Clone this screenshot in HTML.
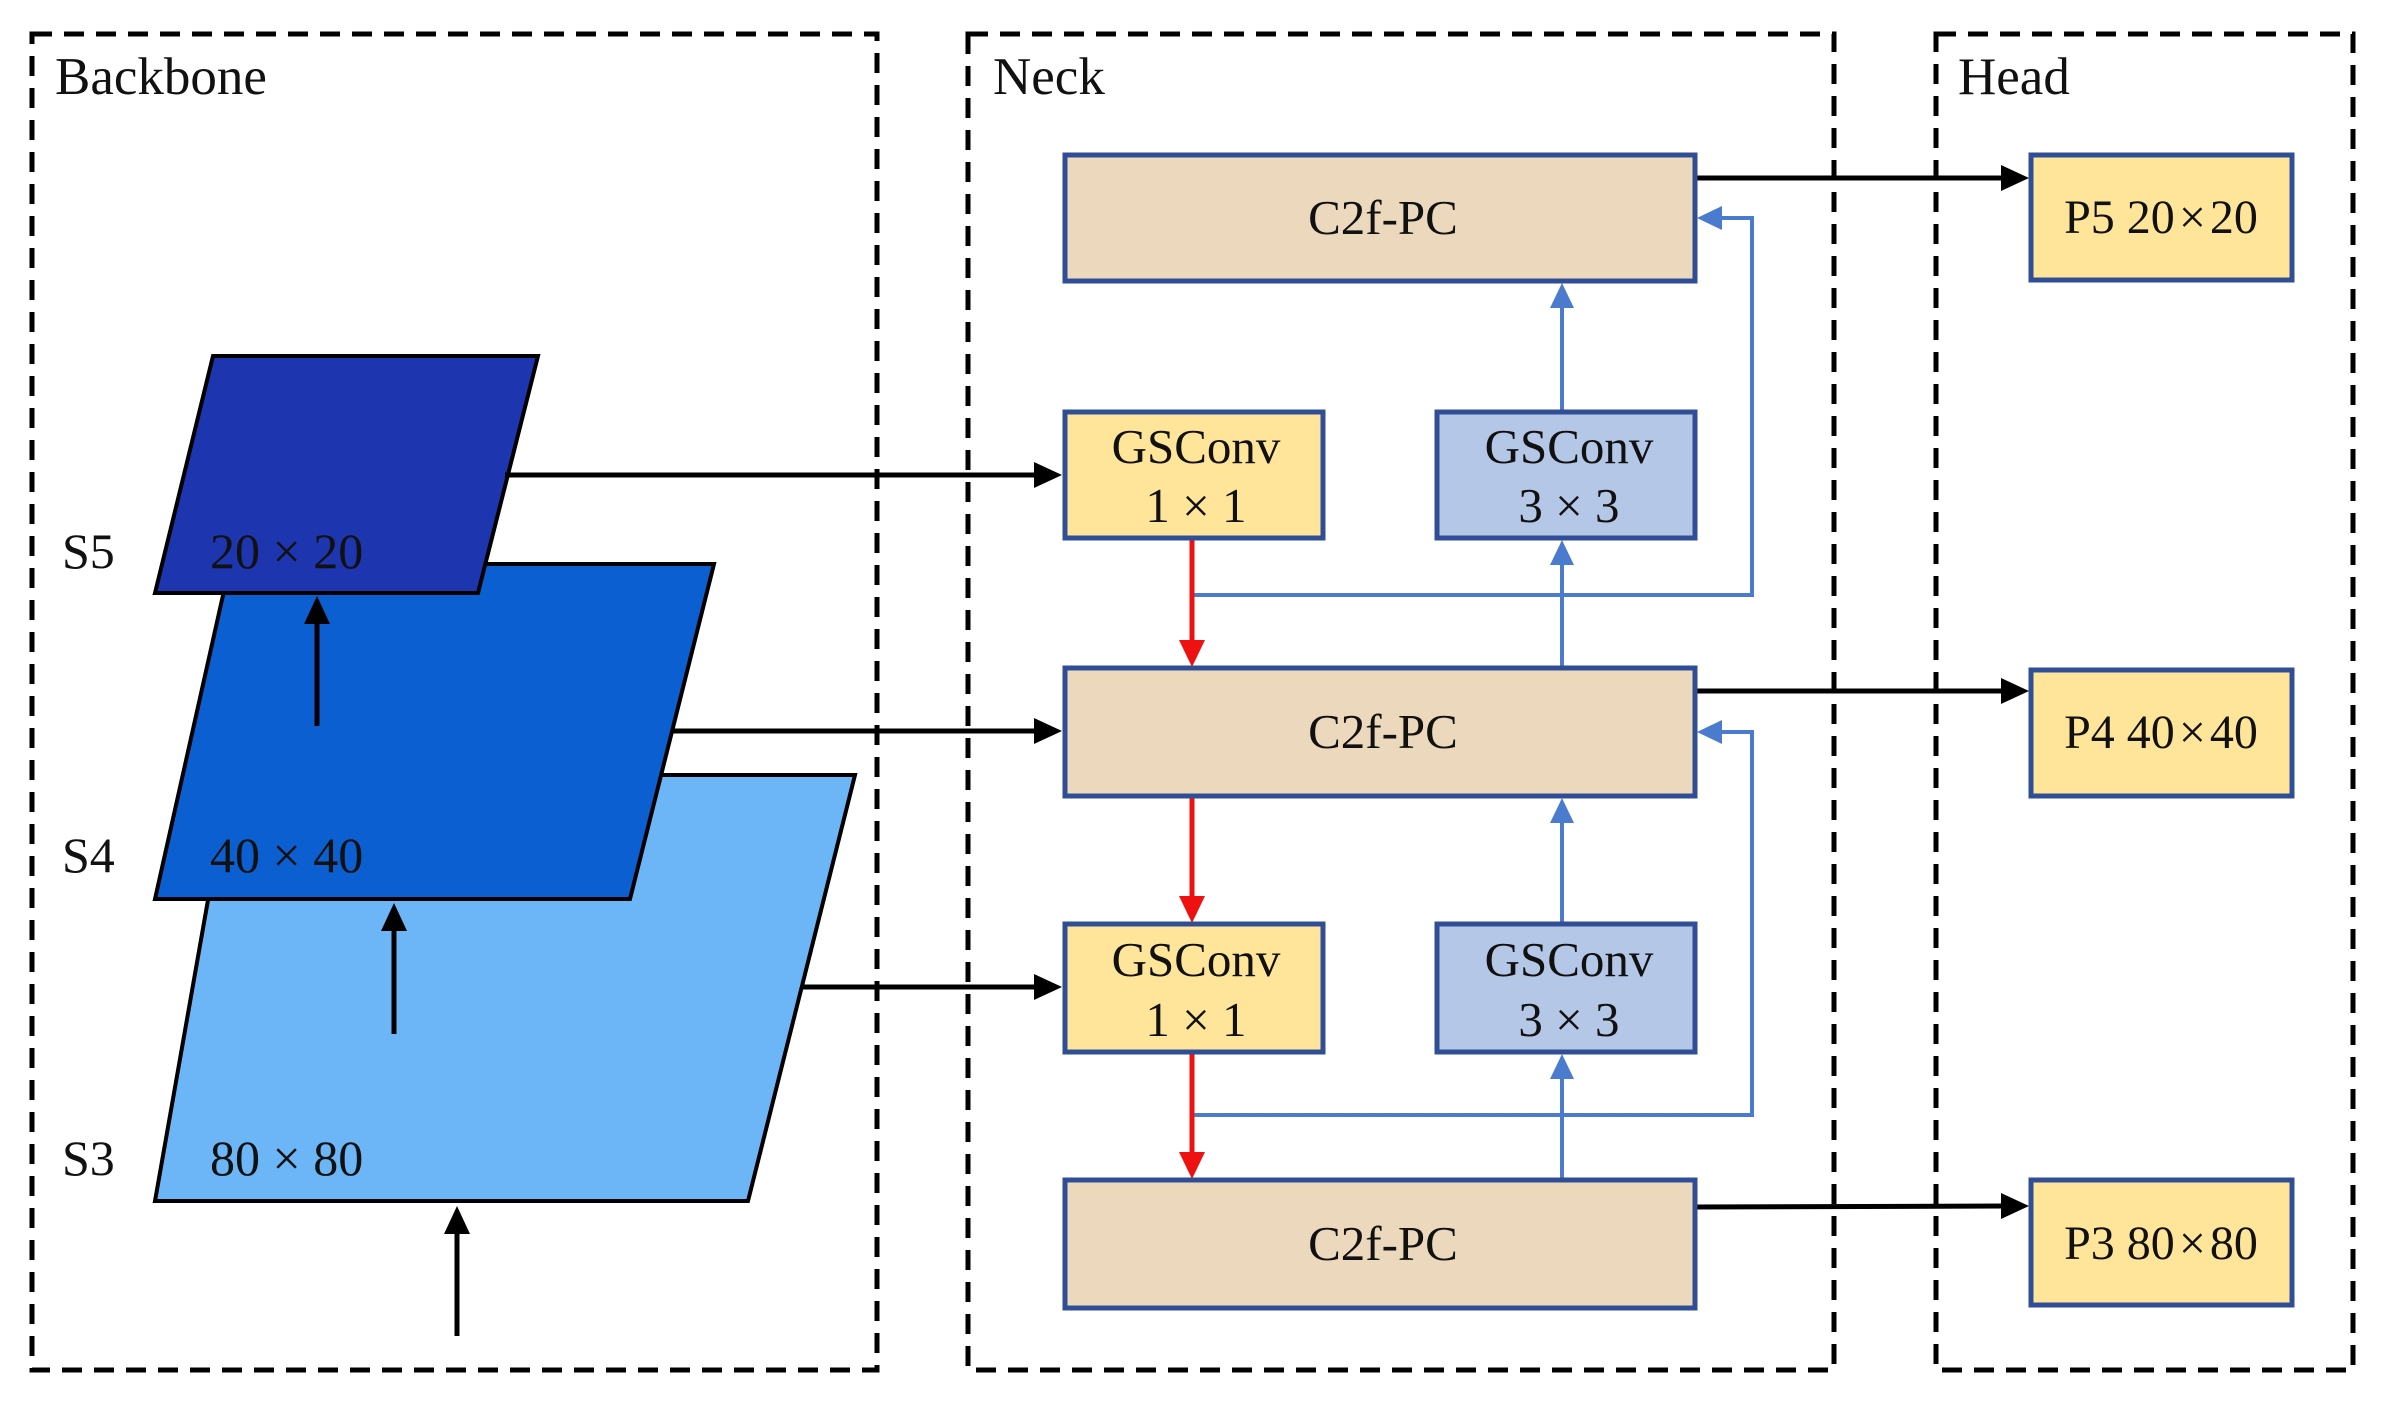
<!DOCTYPE html>
<html><head><meta charset="utf-8"><style>
html,body{margin:0;padding:0;background:#fff;}
svg{display:block;}
text{font-family:"Liberation Serif",serif;fill:#111;}
</style></head><body>
<svg width="2384" height="1410" viewBox="0 0 2384 1410" xmlns="http://www.w3.org/2000/svg">
<g fill="none" stroke="#000" stroke-width="5" stroke-dasharray="20,12">
<rect x="32" y="34" width="845" height="1336"/>
<rect x="968" y="34" width="866" height="1336"/>
<rect x="1936" y="34" width="417" height="1336"/>
</g>
<text x="55" y="94" font-size="53">Backbone</text>
<text x="993" y="94" font-size="53">Neck</text>
<text x="1958" y="94" font-size="53">Head</text>

<polygon points="230,775 855,775 748,1201 155,1201" fill="#6cb6f7" stroke="#000" stroke-width="4"/>
<polygon points="230,564 714,564 630,899 155,899" fill="#0b5fd0" stroke="#000" stroke-width="4"/>
<polygon points="213,356 538,356 478,593 155,593" fill="#1e35b0" stroke="#000" stroke-width="4"/>
<text x="62" y="568" font-size="50">S5</text>
<text x="62" y="872" font-size="50">S4</text>
<text x="62" y="1175" font-size="50">S3</text>
<text x="210" y="568" font-size="50" xml:space="preserve">20 × 20</text>
<text x="210" y="872" font-size="50" xml:space="preserve">40 × 40</text>
<text x="210" y="1175" font-size="50" xml:space="preserve">80 × 80</text>

<g stroke="#000" stroke-width="5" fill="none">
<line x1="317" y1="726" x2="317" y2="622"/>
<line x1="394" y1="1034" x2="394" y2="928"/>
<line x1="457" y1="1336" x2="457" y2="1230"/>
<line x1="505" y1="475" x2="1040" y2="475"/>
<line x1="672" y1="731" x2="1040" y2="731"/>
<line x1="803" y1="987" x2="1040" y2="987"/>
<line x1="1695" y1="178" x2="2006" y2="178"/>
<line x1="1695" y1="691" x2="2006" y2="691"/>
<line x1="1695" y1="1207" x2="2006" y2="1206"/>
</g>
<g fill="#000">
<polygon points="317,596 304,624 330,624"/>
<polygon points="394,903 381,931 407,931"/>
<polygon points="457,1206 444,1234 470,1234"/>
<polygon points="1062,475 1034,462 1034,488"/>
<polygon points="1062,731 1034,718 1034,744"/>
<polygon points="1062,987 1034,974 1034,1000"/>
<polygon points="2029,178 2001,165 2001,191"/>
<polygon points="2029,691 2001,678 2001,704"/>
<polygon points="2029,1206 2001,1193 2001,1219"/>
</g>

<g stroke="#4a7bcf" stroke-width="4" fill="none">
<polyline points="1192,595 1752,595 1752,218 1718,218"/>
<polyline points="1192,1115 1752,1115 1752,732 1718,732"/>
<line x1="1562" y1="668" x2="1562" y2="560"/>
<line x1="1562" y1="412" x2="1562" y2="303"/>
<line x1="1562" y1="1180" x2="1562" y2="1074"/>
<line x1="1562" y1="924" x2="1562" y2="818"/>
</g>
<g fill="#4a7bcf">
<polygon points="1697,218 1722,206 1722,230"/>
<polygon points="1697,732 1722,720 1722,744"/>
<polygon points="1562,540 1550,565 1574,565"/>
<polygon points="1562,283 1550,308 1574,308"/>
<polygon points="1562,1054 1550,1079 1574,1079"/>
<polygon points="1562,798 1550,823 1574,823"/>
</g>

<g stroke="#ee1111" stroke-width="5">
<line x1="1192" y1="540" x2="1192" y2="645"/>
<line x1="1192" y1="798" x2="1192" y2="901"/>
<line x1="1192" y1="1054" x2="1192" y2="1157"/>
</g>
<g fill="#ee1111">
<polygon points="1192,667 1179,640 1205,640"/>
<polygon points="1192,923 1179,896 1205,896"/>
<polygon points="1192,1179 1179,1152 1205,1152"/>
</g>

<g stroke="#2f4e96" stroke-width="5">
<rect x="1065" y="155" width="630" height="126" fill="#ecd9bd"/>
<rect x="1065" y="668" width="630" height="128" fill="#ecd9bd"/>
<rect x="1065" y="1180" width="630" height="128" fill="#ecd9bd"/>
<rect x="1065" y="412" width="258" height="126" fill="#ffe599"/>
<rect x="1065" y="924" width="258" height="128" fill="#ffe599"/>
<rect x="1437" y="412" width="258" height="126" fill="#b4c7e7"/>
<rect x="1437" y="924" width="258" height="128" fill="#b4c7e7"/>
<rect x="2031" y="155" width="261" height="125" fill="#ffe599"/>
<rect x="2031" y="670" width="261" height="126" fill="#ffe599"/>
<rect x="2031" y="1180" width="261" height="125" fill="#ffe599"/>
</g>
<g font-size="49" text-anchor="middle">
<text x="1383" y="234">C2f-PC</text>
<text x="1383" y="748">C2f-PC</text>
<text x="1383" y="1260">C2f-PC</text>
<text x="1196" y="463">GSConv</text>
<text x="1196" y="522" xml:space="preserve">1 × 1</text>
<text x="1569" y="463">GSConv</text>
<text x="1569" y="522" xml:space="preserve">3 × 3</text>
<text x="1196" y="976">GSConv</text>
<text x="1196" y="1036" xml:space="preserve">1 × 1</text>
<text x="1569" y="976">GSConv</text>
<text x="1569" y="1036" xml:space="preserve">3 × 3</text>
</g>
<g font-size="48" text-anchor="middle">
<text x="2161" y="233" xml:space="preserve">P5 20<tspan dx="4">×</tspan><tspan dx="4">20</tspan></text>
<text x="2161" y="748" xml:space="preserve">P4 40<tspan dx="4">×</tspan><tspan dx="4">40</tspan></text>
<text x="2161" y="1259" xml:space="preserve">P3 80<tspan dx="4">×</tspan><tspan dx="4">80</tspan></text>
</g>
</svg>
</body></html>
